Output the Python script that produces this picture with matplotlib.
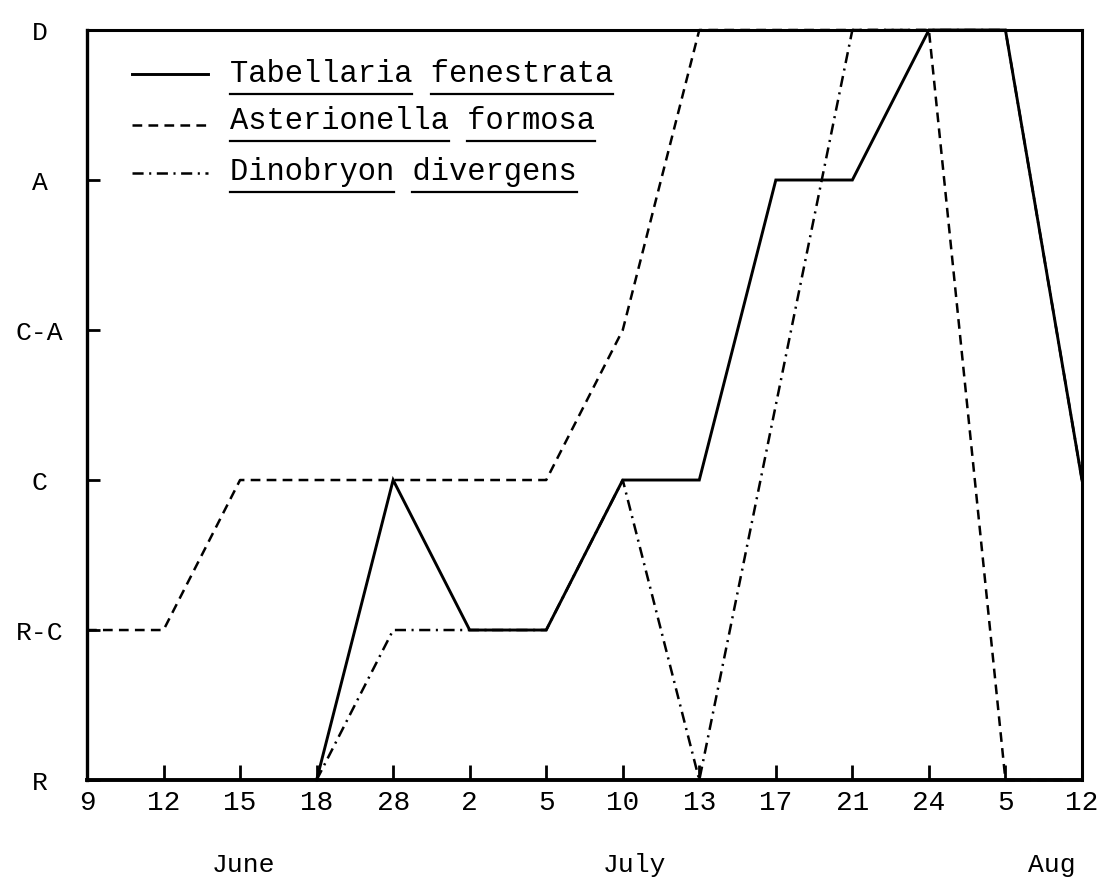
import matplotlib
matplotlib.use("Agg")
import matplotlib.pyplot as plt
import matplotlib.transforms as mtransforms
import numpy as np

plt.rcParams['font.family'] = ['Liberation Mono', 'DejaVu Sans Mono']
plt.rcParams['lines.scale_dashes'] = False

# Sampling dates (equally spaced on the axis) and abundance scale
dates = ['9', '12', '15', '18', '28', '2', '5', '10', '13', '17', '21', '24', '5', '12']
months = ['June', 'July', 'Aug']
month_pos = [2.05, 7.15, 12.6]
levels = ['R', 'R-C', 'C', 'C-A', 'A', 'D']

nan = np.nan
# abundance as index into levels (0 = R ... 5 = D); nan = no record
tabellaria = [nan, nan, nan, 0, 2, 1, 1, 2, 2, 4, 4, 5, 5, 2]
asterionella = [1, 1, 2, 2, 2, 2, 2, 3, 5, 5, 5, 5, 0, 0]
dinobryon = [nan, nan, nan, 0, 1, 1, 1, 2, 0, nan, 5, 5, 5, 2]

series = [
    ('Tabellaria fenestrata', tabellaria, '-'),
    ('Asterionella formosa', asterionella, (0, (7, 4.5))),
    ('Dinobryon divergens', dinobryon, (0, (8, 4, 1.5, 4))),
]

fig = plt.figure(figsize=(10.97, 8.93), dpi=100)
ax = fig.add_axes([0.0793, 0.1265, 0.907, 0.8399])
x = np.arange(len(dates))

for name, vals, ls in series:
    v = np.array(vals, dtype=float)
    m = ~np.isnan(v)
    ax.plot(x[m], v[m], color='black', lw=2.1 if ls == '-' else 1.8,
            linestyle=ls, clip_on=False, solid_joinstyle='miter')

ax.set_xlim(0, len(dates) - 1)
ax.set_ylim(0, len(levels) - 1)
ax.set_xticks(x)
ax.set_xticklabels(dates, fontsize=20)
ax.set_yticks(range(len(levels)))
ax.set_yticklabels(levels, fontsize=19, ha='center')
ax.tick_params(axis='x', direction='in', length=11, width=2, pad=7)
ax.tick_params(axis='y', direction='in', length=9, width=2, pad=34)
for side, lw in [('left', 2.4), ('bottom', 2.8), ('top', 2.2), ('right', 2.2)]:
    ax.spines[side].set_linewidth(lw)

trans = mtransforms.blended_transform_factory(ax.transData, ax.transAxes)
for mname, mx in zip(months, month_pos):
    ax.text(mx, -0.113, mname, transform=trans, ha='center', va='center', fontsize=19)

# Legend drawn by hand: sample line, name, underlined words
leg_line_y = [0.941, 0.873, 0.810]
leg_text_y = [0.931, 0.868, 0.800]
texts = []
for (name, vals, ls), ly, ty in zip(series, leg_line_y, leg_text_y):
    ax.plot([0.0455, 0.122], [ly, ly], transform=ax.transAxes, color='black',
            lw=2.1 if ls == '-' else 1.8, linestyle=ls, clip_on=False)
    t = ax.text(0.1435, ty, name, transform=ax.transAxes, fontsize=22,
                va='baseline', ha='left')
    texts.append(t)

fig.canvas.draw()
renderer = fig.canvas.get_renderer()
inv = fig.transFigure.inverted()
for t in texts:
    s = t.get_text()
    bb = t.get_window_extent(renderer)
    cw = bb.width / len(s)
    base = ax.transAxes.transform((0, t.get_position()[1]))[1]
    uy = base - 12
    start = 0
    for word in s.split(' '):
        x0 = bb.x0 + start * cw
        x1 = x0 + len(word) * cw
        (fx0, fy), (fx1, _) = inv.transform([(x0, uy), (x1, uy)])
        fig.add_artist(plt.Line2D([fx0, fx1], [fy, fy], color='black', lw=1.6))
        start += len(word) + 1

fig.savefig('out.png', dpi=100, facecolor='white')
